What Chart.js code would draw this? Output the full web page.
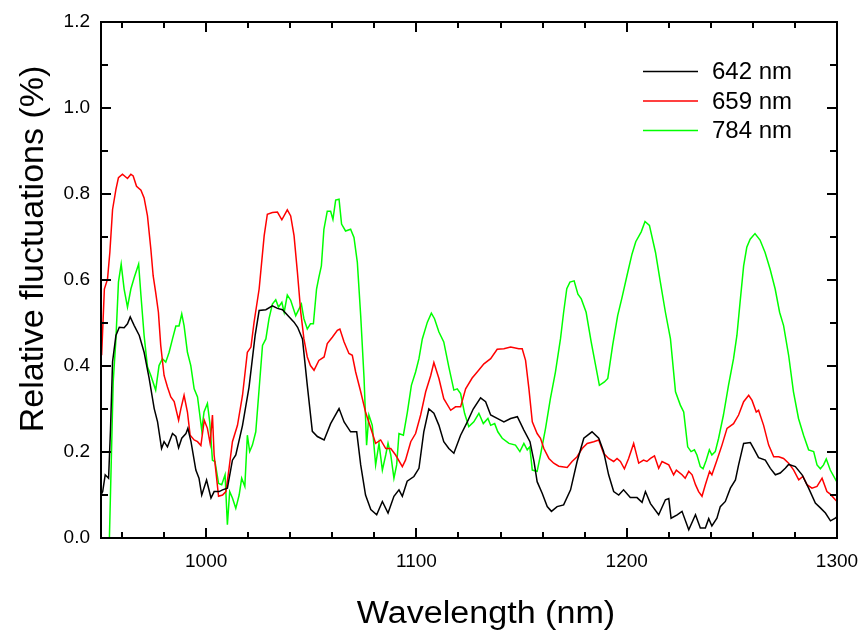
<!DOCTYPE html>
<html>
<head>
<meta charset="utf-8">
<title>Relative fluctuations</title>
<script src="https://cdn.jsdelivr.net/npm/chart.js@4.4.0/dist/chart.umd.min.js"></script>
<style>
  html, body { margin: 0; padding: 0; background: #fff; }
</style>
</head>
<body>
<canvas id="fluctChart" width="863" height="633"></canvas>
<script>
// wavelength (nm) and relative fluctuation (%), one pair of arrays per line
const wl642 = [950, 950.8, 952, 953.6, 954.5, 955.5, 957.1, 958.7, 961, 962.6, 963.9, 965.8, 968.2, 970.5, 972.9, 975.3, 976.9, 978.8, 980, 981.6, 984, 985.6, 986.9, 988.4, 990.4, 991.3, 992.8, 995.1, 996.6, 997.9, 1000.2, 1002.3, 1003.8, 1006.2, 1007.8, 1010.1, 1012.5, 1014.1, 1017.3, 1020.4, 1023.3, 1025.2, 1028.4, 1031.5, 1033.9, 1036.3, 1039.5, 1041.8, 1043.5, 1045.8, 1048.1, 1050.5, 1052.9, 1056.1, 1059.2, 1063.2, 1065.6, 1068.7, 1071.6, 1073.5, 1075.8, 1078.3, 1081.1, 1083.8, 1086.5, 1089.3, 1091.7, 1093.3, 1095.6, 1098.8, 1101.2, 1103.5, 1105.9, 1108.3, 1110.7, 1113, 1115.4, 1117.8, 1121, 1124.2, 1127, 1130.5, 1132.9, 1135.3, 1138.4, 1141.6, 1144.8, 1148, 1151.1, 1154, 1155.9, 1157.4, 1159.8, 1162.2, 1164.2, 1166.9, 1170, 1173.3, 1176.4, 1179.6, 1183.5, 1186.7, 1189, 1191.4, 1193.8, 1196.2, 1198.5, 1201.7, 1204.9, 1207.3, 1208.9, 1211.3, 1215.2, 1218.4, 1220, 1221.1, 1224, 1226.3, 1229.5, 1232.7, 1235, 1237.4, 1239, 1240.5, 1242.9, 1244.5, 1246.9, 1249.3, 1251.7, 1253.2, 1255.6, 1258.8, 1260.4, 1262.7, 1265.9, 1268.3, 1270.7, 1273, 1275.4, 1277, 1280.2, 1283.4, 1286.5, 1289.7, 1292.1, 1294.5, 1296.9, 1299.2, 1300];
const rf642 = [0.1, 0.108, 0.147, 0.139, 0.25, 0.41, 0.471, 0.49, 0.489, 0.498, 0.514, 0.494, 0.471, 0.432, 0.371, 0.301, 0.27, 0.208, 0.224, 0.212, 0.243, 0.236, 0.21, 0.232, 0.243, 0.255, 0.224, 0.158, 0.139, 0.1, 0.135, 0.093, 0.108, 0.108, 0.112, 0.116, 0.181, 0.193, 0.262, 0.351, 0.471, 0.529, 0.531, 0.54, 0.534, 0.531, 0.514, 0.502, 0.49, 0.463, 0.355, 0.248, 0.236, 0.228, 0.266, 0.301, 0.27, 0.247, 0.247, 0.17, 0.1, 0.066, 0.054, 0.085, 0.058, 0.097, 0.112, 0.097, 0.132, 0.143, 0.162, 0.247, 0.3, 0.29, 0.262, 0.224, 0.208, 0.197, 0.239, 0.27, 0.3, 0.326, 0.317, 0.286, 0.278, 0.27, 0.278, 0.282, 0.251, 0.224, 0.178, 0.131, 0.104, 0.073, 0.062, 0.073, 0.077, 0.112, 0.178, 0.232, 0.247, 0.232, 0.201, 0.147, 0.108, 0.1, 0.112, 0.094, 0.094, 0.083, 0.108, 0.08, 0.054, 0.089, 0.092, 0.046, 0.054, 0.062, 0.019, 0.054, 0.023, 0.023, 0.045, 0.028, 0.046, 0.073, 0.085, 0.116, 0.135, 0.17, 0.22, 0.222, 0.208, 0.187, 0.181, 0.162, 0.147, 0.151, 0.162, 0.171, 0.166, 0.147, 0.116, 0.081, 0.07, 0.058, 0.04, 0.046, 0.05];

const wl659 = [950.3, 951.6, 953.1, 954.2, 955.5, 957.1, 958.3, 960.2, 962.6, 964.2, 965.3, 966.9, 969, 970.5, 972.1, 973.7, 974.8, 976, 977.3, 978.4, 980, 981.6, 983.2, 984.8, 986.9, 988, 989.5, 991.1, 992.4, 994.3, 995.9, 997.5, 999.1, 1000.6, 1001.9, 1003, 1003.8, 1005.9, 1007.8, 1009.4, 1010.9, 1012.5, 1014.9, 1017.3, 1019.6, 1021.3, 1022.8, 1025.2, 1027.6, 1029.1, 1031.5, 1033.9, 1036, 1038.6, 1040.2, 1041.8, 1043.4, 1045, 1046.5, 1048.1, 1049.6, 1051.3, 1053.6, 1056.1, 1057.6, 1060, 1062.4, 1063.6, 1065.6, 1067.9, 1069.5, 1071.1, 1073.5, 1075.8, 1078.3, 1080.6, 1083, 1085.4, 1087.8, 1090.1, 1093.3, 1094.8, 1097.3, 1099.6, 1102, 1104.4, 1106.8, 1108.3, 1110.7, 1113, 1116.3, 1118.6, 1121, 1123.4, 1126.5, 1128.9, 1132.1, 1135.3, 1138.4, 1141.6, 1144.8, 1148.7, 1150.3, 1151.9, 1153.5, 1155.1, 1157.4, 1159, 1160.6, 1163, 1165.3, 1167.7, 1171.7, 1174, 1176.4, 1178.8, 1181.2, 1184.3, 1186.7, 1189, 1191.4, 1193.8, 1195.4, 1197, 1198.9, 1200.9, 1203.3, 1205.7, 1208, 1209.6, 1211.3, 1213.2, 1215.2, 1216.8, 1220, 1222.3, 1223.6, 1226.3, 1227.8, 1229.5, 1231.1, 1232.7, 1234.2, 1235.8, 1237.4, 1239.4, 1240.5, 1242.9, 1245.3, 1247.7, 1250.8, 1253.2, 1255.6, 1258, 1259.6, 1261.6, 1262.7, 1265.1, 1267.5, 1269.9, 1272.3, 1274.6, 1277, 1279.4, 1281.8, 1283.8, 1285.7, 1288.1, 1290.5, 1292.9, 1295.2, 1296.8, 1299.2, 1300];
const rf659 = [0.425, 0.579, 0.602, 0.664, 0.764, 0.811, 0.838, 0.846, 0.836, 0.846, 0.842, 0.818, 0.809, 0.791, 0.749, 0.672, 0.61, 0.571, 0.525, 0.448, 0.378, 0.351, 0.328, 0.317, 0.274, 0.301, 0.332, 0.293, 0.239, 0.228, 0.224, 0.215, 0.274, 0.255, 0.22, 0.286, 0.193, 0.097, 0.1, 0.108, 0.162, 0.224, 0.262, 0.332, 0.432, 0.444, 0.502, 0.579, 0.703, 0.753, 0.757, 0.758, 0.74, 0.763, 0.749, 0.703, 0.618, 0.525, 0.463, 0.421, 0.401, 0.39, 0.413, 0.421, 0.452, 0.467, 0.483, 0.486, 0.456, 0.429, 0.425, 0.386, 0.34, 0.293, 0.255, 0.22, 0.228, 0.208, 0.208, 0.193, 0.166, 0.181, 0.224, 0.243, 0.286, 0.34, 0.378, 0.408, 0.371, 0.324, 0.297, 0.305, 0.305, 0.347, 0.372, 0.386, 0.405, 0.417, 0.439, 0.44, 0.444, 0.44, 0.44, 0.413, 0.347, 0.27, 0.243, 0.232, 0.208, 0.185, 0.174, 0.167, 0.164, 0.178, 0.189, 0.208, 0.22, 0.224, 0.228, 0.197, 0.185, 0.178, 0.185, 0.178, 0.161, 0.185, 0.22, 0.174, 0.181, 0.178, 0.185, 0.191, 0.162, 0.178, 0.17, 0.147, 0.158, 0.147, 0.139, 0.155, 0.147, 0.124, 0.108, 0.097, 0.124, 0.155, 0.147, 0.181, 0.216, 0.255, 0.266, 0.286, 0.317, 0.332, 0.32, 0.293, 0.297, 0.262, 0.216, 0.189, 0.189, 0.185, 0.174, 0.158, 0.135, 0.143, 0.124, 0.116, 0.12, 0.139, 0.108, 0.102, 0.089, 0.085];

const wl784 = [954, 955.8, 957.1, 958.3, 959.6, 961, 962.6, 964.2, 965.8, 967.9, 969, 970.5, 972.1, 973.7, 976, 977.6, 979.2, 980.8, 982.4, 984, 985.6, 987.1, 988.4, 989.5, 991.1, 992.7, 994.3, 995.9, 997.9, 999, 1000.6, 1001.7, 1003, 1004.2, 1005.9, 1007.4, 1009, 1010.1, 1011.2, 1012.5, 1014.1, 1015.7, 1016.9, 1018.4, 1019.6, 1020.7, 1022, 1023.6, 1025.2, 1026.8, 1028.4, 1029.9, 1031.5, 1033.1, 1034.4, 1036, 1037.1, 1038.6, 1040.2, 1042.6, 1045.3, 1046.5, 1048.1, 1049.6, 1051, 1052.5, 1053.6, 1054.8, 1056, 1057.6, 1059.2, 1060.3, 1061.6, 1063.2, 1064.4, 1066.3, 1068.7, 1070.3, 1071.9, 1073.5, 1075.1, 1076.3, 1077.4, 1079, 1080.6, 1082.2, 1083.8, 1085.4, 1086.5, 1087.8, 1089.3, 1090.6, 1091.7, 1093.8, 1095.7, 1097.6, 1099.6, 1101.2, 1102.8, 1105.2, 1107.1, 1108.6, 1110.7, 1113, 1115.4, 1117.8, 1119.4, 1121, 1122.9, 1124.9, 1127.3, 1129.7, 1131.8, 1134, 1135.3, 1137.2, 1138.7, 1140.8, 1144, 1147.1, 1149.2, 1151.1, 1152.7, 1153.9, 1155.1, 1157.4, 1159, 1161.4, 1163.7, 1166.1, 1168.5, 1170, 1171.5, 1173, 1175, 1176.8, 1178.4, 1180.7, 1183.1, 1185.5, 1187, 1189.4, 1191, 1193.3, 1195.7, 1197.7, 1200.3, 1202.5, 1204.3, 1206.9, 1208.7, 1210.8, 1213.7, 1216, 1218.4, 1220.8, 1223.2, 1225.5, 1227.1, 1229, 1230.6, 1232.2, 1233.4, 1235, 1236.3, 1237.8, 1239.3, 1240.5, 1242.1, 1243.7, 1246, 1248.4, 1250.8, 1252.4, 1253.9, 1255.6, 1257.1, 1258.7, 1261, 1263.4, 1265.8, 1268.2, 1270.6, 1272.7, 1274.6, 1277, 1279.3, 1281.7, 1284.1, 1286.5, 1288.9, 1290.5, 1292.1, 1293.6, 1294.9, 1296.8, 1299.2, 1300];
const rf784 = [0, 0.363, 0.463, 0.595, 0.637, 0.579, 0.537, 0.579, 0.606, 0.637, 0.564, 0.471, 0.398, 0.378, 0.344, 0.401, 0.417, 0.409, 0.432, 0.463, 0.493, 0.493, 0.521, 0.494, 0.432, 0.401, 0.347, 0.328, 0.251, 0.293, 0.313, 0.27, 0.181, 0.178, 0.127, 0.124, 0.147, 0.031, 0.108, 0.093, 0.069, 0.1, 0.139, 0.12, 0.239, 0.201, 0.216, 0.247, 0.347, 0.448, 0.463, 0.51, 0.544, 0.554, 0.537, 0.548, 0.525, 0.565, 0.553, 0.517, 0.544, 0.51, 0.486, 0.498, 0.498, 0.579, 0.606, 0.633, 0.718, 0.76, 0.76, 0.741, 0.786, 0.788, 0.73, 0.714, 0.718, 0.699, 0.641, 0.517, 0.371, 0.216, 0.286, 0.262, 0.17, 0.22, 0.158, 0.193, 0.22, 0.193, 0.139, 0.17, 0.243, 0.239, 0.293, 0.355, 0.386, 0.417, 0.463, 0.502, 0.523, 0.51, 0.479, 0.456, 0.398, 0.344, 0.347, 0.336, 0.29, 0.259, 0.27, 0.29, 0.266, 0.278, 0.262, 0.266, 0.247, 0.232, 0.22, 0.216, 0.201, 0.22, 0.205, 0.212, 0.158, 0.155, 0.193, 0.255, 0.324, 0.386, 0.463, 0.525, 0.58, 0.595, 0.598, 0.567, 0.556, 0.525, 0.456, 0.394, 0.355, 0.363, 0.371, 0.448, 0.517, 0.558, 0.614, 0.66, 0.689, 0.712, 0.736, 0.727, 0.664, 0.595, 0.525, 0.463, 0.34, 0.309, 0.293, 0.212, 0.201, 0.205, 0.193, 0.166, 0.161, 0.181, 0.205, 0.193, 0.201, 0.232, 0.286, 0.355, 0.417, 0.471, 0.548, 0.633, 0.676, 0.695, 0.708, 0.693, 0.664, 0.625, 0.579, 0.525, 0.494, 0.425, 0.34, 0.278, 0.239, 0.205, 0.201, 0.17, 0.161, 0.17, 0.184, 0.158, 0.137, 0.13];

const seriesLabels = ['642 nm', '659 nm', '784 nm'];
const seriesColors = ['#000000', '#ff0000', '#00ff00'];

// labelled ticks and the small inward tick marks
const xTickLabels = [1000, 1100, 1200, 1300];
const yTickLabels = [0, 0.2, 0.4, 0.6, 0.8, 1.0, 1.2];
const xTickMarks = [960, 980, 1000, 1020, 1040, 1060, 1080, 1100, 1120, 1140, 1160, 1180, 1200, 1220, 1240, 1260, 1280];
const yTickMarks = [0.1, 0.2, 0.3, 0.4, 0.5, 0.6, 0.7, 0.8, 0.9, 1.0, 1.1];

const FONT = '"Liberation Sans", Arial, sans-serif';

const toPoints = (xs, ys) => xs.map((x, i) => ({ x: x, y: ys[i] }));

// box frame, inward ticks, legend and axis titles
const frameAndLegend = {
    id: 'frameAndLegend',
    afterDraw(chart) {
        const { ctx, chartArea: a, scales: { x, y } } = chart;
        ctx.save();
        ctx.strokeStyle = '#000';
        ctx.lineWidth = 2;
        ctx.strokeRect(a.left, a.top, a.right - a.left, a.bottom - a.top);

        ctx.beginPath();
        xTickMarks.forEach(v => {
            const px = Math.round(x.getPixelForValue(v));
            const len = xTickLabels.includes(v) ? 10 : 6;
            ctx.moveTo(px, a.bottom); ctx.lineTo(px, a.bottom - len);
            ctx.moveTo(px, a.top); ctx.lineTo(px, a.top + len);
        });
        yTickMarks.forEach(v => {
            const py = Math.round(y.getPixelForValue(v));
            const major = yTickLabels.some(t => Math.abs(t - v) < 1e-6);
            const len = major ? 10 : 7;
            ctx.moveTo(a.left, py); ctx.lineTo(a.left + len, py);
            ctx.moveTo(a.right, py); ctx.lineTo(a.right - len, py);
        });
        ctx.stroke();

        // legend
        ctx.font = '24px ' + FONT;
        ctx.textBaseline = 'middle';
        ctx.textAlign = 'left';
        chart.data.datasets.forEach((ds, i) => {
            const ly = a.top + 49.5 + i * 29.5;
            ctx.strokeStyle = ds.borderColor;
            ctx.lineWidth = 1.5;
            ctx.beginPath();
            ctx.moveTo(a.right - 194, ly);
            ctx.lineTo(a.right - 139, ly);
            ctx.stroke();
            ctx.fillStyle = '#000';
            ctx.fillText(ds.label, a.right - 125, ly + 1);
        });

        // axis titles (the original lettering is a little wide, so stretch it slightly)
        ctx.fillStyle = '#000';
        ctx.textAlign = 'center';
        ctx.textBaseline = 'alphabetic';
        ctx.save();
        ctx.translate((a.left + a.right) / 2 + 17, 623);
        ctx.scale(1.1, 1);
        ctx.font = '31px ' + FONT;
        ctx.fillText('Wavelength (nm)', 0, 0);
        ctx.restore();

        ctx.translate(43, (a.top + a.bottom) / 2 - 31);
        ctx.rotate(-Math.PI / 2);
        ctx.font = '34px ' + FONT;
        ctx.fillText('Relative fluctuations (%)', 0, 0);
        ctx.restore();
    }
};

const ctx = document.getElementById('fluctChart').getContext('2d');

const fluctChart = new Chart(ctx, {
    type: 'line',
    data: {
        datasets: [
            { label: seriesLabels[0], data: toPoints(wl642, rf642), borderColor: seriesColors[0] },
            { label: seriesLabels[1], data: toPoints(wl659, rf659), borderColor: seriesColors[1] },
            { label: seriesLabels[2], data: toPoints(wl784, rf784), borderColor: seriesColors[2] }
        ]
    },
    options: {
        responsive: false,
        animation: false,
        devicePixelRatio: 1,
        layout: { padding: { top: 22, right: 26, left: 0, bottom: 0 } },
        elements: {
            line: { borderWidth: 1.5, tension: 0, fill: false },
            point: { radius: 0, hoverRadius: 0 }
        },
        scales: {
            x: {
                type: 'linear',
                min: 950,
                max: 1300,
                afterBuildTicks: s => { s.ticks = xTickLabels.map(v => ({ value: v })); },
                afterFit: s => { s.height = 95; s.paddingLeft = 0; s.paddingRight = 0; },
                grid: { display: false, drawTicks: false },
                border: { display: true, color: '#000', width: 2 },
                ticks: {
                    color: '#000',
                    font: { family: FONT, size: 19 },
                    padding: 12,
                    maxRotation: 0,
                    autoSkip: false,
                    callback: v => String(v)
                }
            },
            y: {
                type: 'linear',
                min: 0,
                max: 1.2,
                afterBuildTicks: s => { s.ticks = yTickLabels.map(v => ({ value: v })); },
                afterFit: s => { s.width = 101; s.paddingTop = 0; s.paddingBottom = 0; },
                grid: { display: false, drawTicks: false },
                border: { display: true, color: '#000', width: 2 },
                ticks: {
                    color: '#000',
                    font: { family: FONT, size: 19 },
                    padding: 11,
                    callback: v => Number(v).toFixed(1)
                }
            }
        },
        plugins: {
            legend: { display: false },
            tooltip: { enabled: false }
        }
    },
    plugins: [frameAndLegend]
});
</script>
</body>
</html>
